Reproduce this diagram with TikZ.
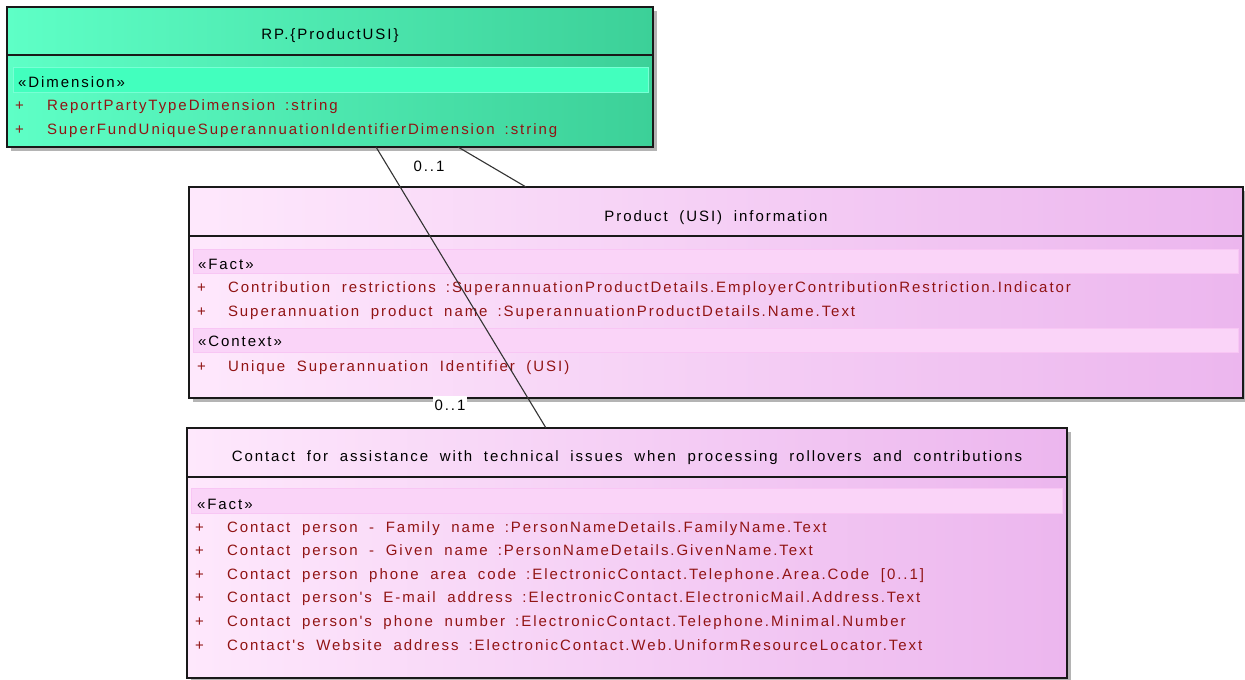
\documentclass[tikz,border=0pt]{standalone}
\usepackage{fontspec}
\newfontfamily\umlfont[LetterSpace=13,WordSpace=1.9]{Liberation Sans}
\usetikzlibrary{shadows}
\definecolor{rpL}{RGB}{94,255,198}
\definecolor{rpM}{RGB}{86,246,188}
\definecolor{rpR}{RGB}{60,208,152}
\definecolor{rpBand}{RGB}{66,255,190}
\definecolor{rpBandB}{RGB}{120,255,212}
\definecolor{pkL}{RGB}{254,232,252}
\definecolor{pkM}{RGB}{250,222,248}
\definecolor{pkR}{RGB}{236,182,238}
\definecolor{pkBand}{RGB}{250,212,248}
\definecolor{pkBandB}{RGB}{248,198,244}
\definecolor{attr}{RGB}{145,20,20}
\definecolor{shade}{RGB}{180,180,180}
\newcommand{\attsep}{\hspace{10pt}}
\begin{document}
\begin{tikzpicture}[x=1pt,y=-1pt,
  every node/.style={font=\umlfont\fontsize{15}{17}\selectfont, inner sep=0pt, outer sep=0pt},
  classbox/.style={draw=black!90, line width=1.3pt, anchor=north west,
    drop shadow={shadow xshift=4pt, shadow yshift=-4pt, fill=shade, opacity=1}},
  rpbox/.style={classbox, left color=rpL, middle color=rpM, right color=rpR},
  pkbox/.style={classbox, left color=pkL, middle color=pkM, right color=pkR},
  rpband/.style={fill=rpBand, draw=rpBandB, line width=0.8pt},
  pkband/.style={fill=pkBand, draw=pkBandB, line width=0.8pt},
  sepline/.style={draw=black!90, line width=1.3pt},
  title/.style={anchor=base, text=black},
  stereo/.style={anchor=base west, text=black},
  attrtxt/.style={anchor=base west, text=attr},
  conn/.style={draw=black!80, line width=1.1pt},
  mult/.style={text=black}
]
\fill[white] (0,0) rectangle (1245,680);
\useasboundingbox (0,0) rectangle (1245,680);

% ---------- RP.{ProductUSI}
\node[rpbox, minimum width=646pt, minimum height=140pt] (rp) at (7,7) {};
\draw[sepline] (7,55) -- (653,55);
\filldraw[rpband] (13,67) rectangle (648,92);
\node[title] (rpT) at (330,39) {RP.\{ProductUSI\}};
\node[stereo] (rpS) at (18,87) {«Dimension»};
\node[attrtxt] (rpP1) at (15,110.5) {+};
\node[attrtxt] (rpA1) at (47,110.5) {ReportPartyTypeDimension\attsep:string};
\node[attrtxt] (rpP2) at (15,134) {+};
\node[attrtxt] (rpA2) at (47,134) {SuperFundUniqueSuperannuationIdentifierDimension\attsep:string};

% ---------- Product (USI) information
\node[pkbox, minimum width=1054pt, minimum height=211pt] (pi) at (189,187) {};
\draw[sepline] (189,236) -- (1243,236);
\filldraw[pkband] (193,249) rectangle (1238,273);
\filldraw[pkband] (193,328) rectangle (1238,352);
\node[title] (piT) at (716,221) {Product (USI) information};
\node[stereo] (piS1) at (198,269) {«Fact»};
\node[attrtxt] (piP1) at (197,292) {+};
\node[attrtxt] (piA1) at (228,292) {Contribution restrictions\attsep:SuperannuationProductDetails.EmployerContributionRestriction.Indicator};
\node[attrtxt] (piP2) at (197,316) {+};
\node[attrtxt] (piA2) at (228,316) {Superannuation product name\attsep:SuperannuationProductDetails.Name.Text};
\node[stereo] (piS2) at (198,346.5) {«Context»};
\node[attrtxt] (piP3) at (197,371) {+};
\node[attrtxt] (piA3) at (228,371) {Unique Superannuation Identifier (USI)};

% ---------- Contact box
\node[pkbox, minimum width=880pt, minimum height=250pt] (ct) at (187,428) {};
\draw[sepline] (187,477) -- (1067,477);
\filldraw[pkband] (191,488) rectangle (1062,513);
\node[title] (ctT) at (627,461) {Contact for assistance with technical issues when processing rollovers and contributions};
\node[stereo] (ctS) at (197,509) {«Fact»};
\foreach \i/\t in {0/{Contact person - Family name\attsep:PersonNameDetails.FamilyName.Text},
                   1/{Contact person - Given name\attsep:PersonNameDetails.GivenName.Text},
                   2/{Contact person phone area code\attsep:ElectronicContact.Telephone.Area.Code [0..1]},
                   3/{Contact person's E-mail address\attsep:ElectronicContact.ElectronicMail.Address.Text},
                   4/{Contact person's phone number\attsep:ElectronicContact.Telephone.Minimal.Number},
                   5/{Contact's Website address\attsep:ElectronicContact.Web.UniformResourceLocator.Text}}{
  \node[attrtxt] (ctP\i) at (195,532+23.6*\i) {+};
  \node[attrtxt] (ctA\i) at (227,532+23.6*\i) {\t};
}

% ---------- connectors
\coordinate (lA1) at (376,147);
\coordinate (lA2) at (546,428);
\coordinate (lB1) at (458,147);
\coordinate (lB2) at (526,187);
\draw[conn] (lA1) -- (lA2);
\draw[conn] (lB1) -- (lB2);
\node[mult] (m1) at (429,166) {0..1};
\node[mult, fill=white, inner xsep=1.5pt, inner ysep=4pt] (m2) at (450,405) {0..1};
\end{tikzpicture}
\end{document}
